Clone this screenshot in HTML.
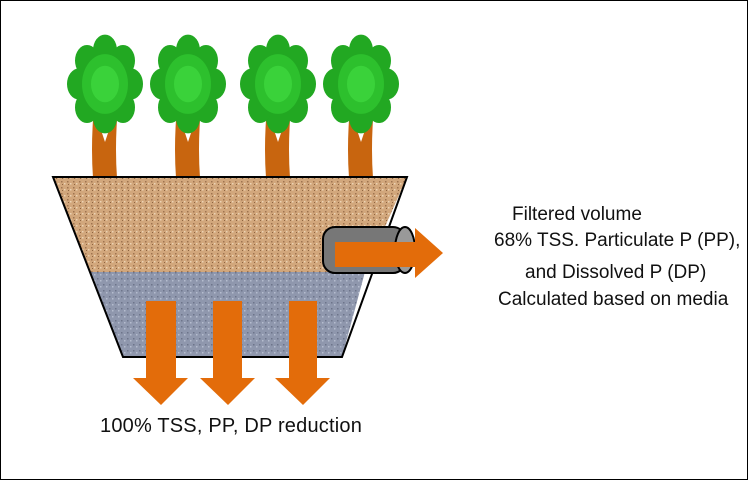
<!DOCTYPE html>
<html><head><style>
body{margin:0;width:748px;height:480px;overflow:hidden;background:#fff;}
.frame{position:absolute;left:0;top:0;width:746px;height:478px;border:1px solid #000;}
.t{position:absolute;font-family:"Liberation Sans",sans-serif;font-size:19px;color:#111;white-space:nowrap;}
</style></head><body>
<div class="frame"></div>
<svg width="748" height="480" style="position:absolute;left:0;top:0">
<defs>
<pattern id="sand" width="6" height="6" patternUnits="userSpaceOnUse">
<rect width="6" height="6" fill="#d2a77c"/>
<rect x="1" y="1" width="1.5" height="1.5" fill="#a07450"/>
<rect x="4" y="3" width="1.5" height="1.5" fill="#ecd3b4"/>
<rect x="2" y="4" width="1" height="1" fill="#8e6440"/>
</pattern>
<pattern id="grav" width="6" height="6" patternUnits="userSpaceOnUse">
<rect width="6" height="6" fill="#8f97ad"/>
<rect x="1" y="2" width="1.5" height="1.5" fill="#6d748a"/>
<rect x="4" y="4" width="1.5" height="1.5" fill="#b5bcce"/>
</pattern>
<g id="tree">
<path d="M-12 120 Q-14 150 -12 178 L12 178 Q10 150 12 120 Z" fill="#c8650f"/>
<path d="M-6 124 L0 142 L6 124 Z" fill="#fff"/>
<g transform="translate(0,84) scale(1,1.3) translate(0,-84)">
<circle cx="0" cy="84" r="30" fill="#1e9a1e"/>
<circle cx="0" cy="58" r="12" fill="#22a822"/><circle cx="18" cy="66" r="12" fill="#22a822"/>
<circle cx="26" cy="84" r="12" fill="#22a822"/><circle cx="18" cy="102" r="12" fill="#22a822"/>
<circle cx="0" cy="110" r="12" fill="#22a822"/><circle cx="-18" cy="102" r="12" fill="#22a822"/>
<circle cx="-26" cy="84" r="12" fill="#22a822"/><circle cx="-18" cy="66" r="12" fill="#22a822"/>
<circle cx="0" cy="84" r="23" fill="#2dc02d"/>
<circle cx="0" cy="84" r="14" fill="#3ad23a"/>
</g>
</g>
</defs>
<use href="#tree" x="105" y="0"/>
<use href="#tree" x="188" y="0"/>
<use href="#tree" x="278" y="0"/>
<use href="#tree" x="361" y="0"/>
<polygon points="53,177 407,177 365,272 90,272" fill="url(#sand)"/>
<polygon points="90,272 365,272 342,357 123,357" fill="url(#grav)"/>
<polygon points="53,177 407,177 342,357 123,357" fill="none" stroke="#000" stroke-width="2"/>
<rect x="323" y="227" width="82" height="46" rx="12" fill="#777" stroke="#000" stroke-width="2"/>
<ellipse cx="405" cy="250" rx="10" ry="23" fill="#999" stroke="#000" stroke-width="2"/>
<polygon points="335,242 415,242 415,228 443,253 415,278 415,267 335,267" fill="#e36c0a"/>
<polygon points="146,301 176,301 176,378 188,378 161,405 133,378 146,378" fill="#e36c0a"/>
<polygon points="213,301 242,301 242,378 255,378 228,405 200,378 213,378" fill="#e36c0a"/>
<polygon points="289,301 317,301 317,378 330,378 303,405 275,378 289,378" fill="#e36c0a"/>
</svg>
<div class="t" style="left:512px;top:204px">Filtered volume</div>
<div class="t" style="left:494px;top:230px">68% TSS. Particulate P (PP),</div>
<div class="t" style="left:525px;top:262px">and Dissolved P (DP)</div>
<div class="t" style="left:498px;top:289px">Calculated based on media</div>
<div class="t" style="left:100px;top:415px;font-size:20px;letter-spacing:0.2px">100% TSS, PP, DP reduction</div>
</body></html>
